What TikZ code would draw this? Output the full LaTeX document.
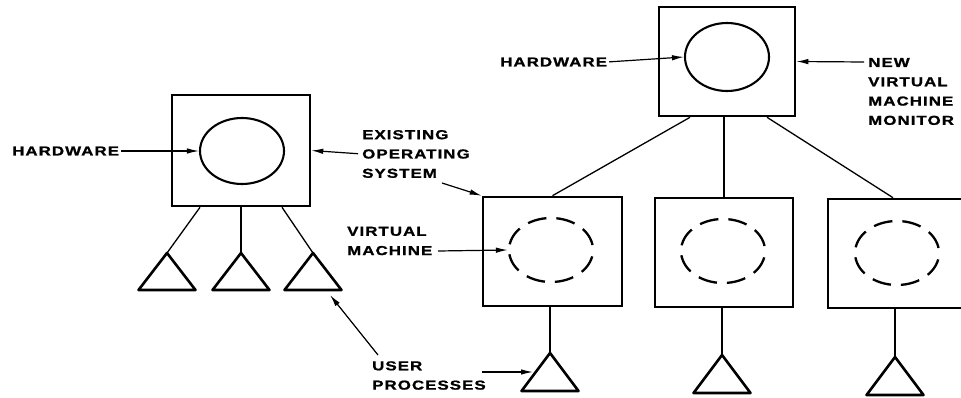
\documentclass[tikz,border=0pt]{standalone}
\usepackage{fontspec}
\newfontfamily\lbl{Liberation Sans}[FakeStretch=1.3,LetterSpace=8,FakeBold=1.2]
\usetikzlibrary{shapes.geometric,arrows.meta}
\tikzset{
  box/.style={draw, line width=2.6pt, rectangle, inner sep=0pt},
  ring/.style={draw, line width=2.1pt, ellipse, inner sep=0pt, minimum width=84pt, minimum height=66pt},
  vring/.style={draw, line width=2.3pt, ellipse, inner sep=0pt, minimum width=84pt, minimum height=64pt,
    dash pattern=on 19pt off 10pt, dash phase=24pt},
  lab/.style={inner sep=0pt, align=left, anchor=west, font=\lbl\bfseries\fontsize{13}{19.3}\selectfont},
  conn/.style={line width=1.3pt},
  ptr/.style={line width=1.2pt, -{Latex[length=12pt,width=5.5pt]}},
  tri/.style={draw, line width=2.6pt, line join=round}
}
\begin{document}
\begin{tikzpicture}[x=1pt,y=-1pt]
\useasboundingbox (0,0) rectangle (961,398);
\clip (0,0) rectangle (961,398);
% left system
\node[box, minimum width=138pt, minimum height=111pt] (lb) at (241,150.5) {};
\node[ring] (lc) at (242,151) {};
\coordinate (lt1) at (167,253);
\coordinate (lt2) at (241,253);
\coordinate (lt3) at (313,253);
\foreach \t in {lt1,lt2,lt3}
  \draw[tri] (\t) -- ++(28.5,37) -- ++(-57,0) -- cycle;
\draw[conn] ([xshift=-41pt]lb.south) -- (lt1);
\draw[conn] (lb.south) -- (lt2);
\draw[conn] ([xshift=41pt]lb.south) -- (lt3);
% top monitor
\node[box, minimum width=136pt, minimum height=109pt] (tb) at (727,61.5) {};
\node[ring, minimum height=68pt] (tc) at (727,57) {};
% virtual machines
\node[box, minimum width=139pt, minimum height=109pt] (v1) at (552.5,251.5) {};
\node[box, minimum width=138pt, minimum height=109pt] (v2) at (724,252.5) {};
\node[box, minimum width=138pt, minimum height=109pt] (v3) at (897,253.5) {};
\node[vring] (c1) at (551,250) {};
\node[vring] (c2) at (723,251) {};
\node[vring] (c3) at (897,253) {};
\draw[conn] ([xshift=-37pt]tb.south) -- (v1.north);
\draw[conn] (v2.north |- tb.south) -- (v2.north);
\draw[conn] ([xshift=40pt]tb.south) -- ([xshift=-4pt]v3.north);
\coordinate (vt1) at (550,353);
\coordinate (vt2) at (722,355);
\coordinate (vt3) at (895,357);
\foreach \t in {vt1,vt2,vt3}
  \draw[tri] (\t) -- ++(28.5,38) -- ++(-57,0) -- cycle;
\draw[conn] (vt1 |- v1.south) -- (vt1);
\draw[conn] (vt2 |- v2.south) -- (vt2);
\draw[conn] (vt3 |- v3.south) -- (vt3);
% labels
\node[lab] (hw1) at (12,151) {HARDWARE};
\node[lab] (eos) at (362,154) {EXISTING\\OPERATING\\SYSTEM};
\node[lab] (vm) at (347,241) {VIRTUAL\\MACHINE};
\node[lab] (up) at (372,375.5) {USER\\PROCESSES};
\node[lab] (hw2) at (500,62) {HARDWARE};
\node[lab] (nv) at (868,91.5) {NEW\\VIRTUAL\\MACHINE\\MONITOR};
% pointers
\draw[ptr, shorten <=2pt] (hw1.east) -- (lc.west);
\draw[ptr, shorten <=4pt] (eos.west) -- (lb.east);
\coordinate (eosfoot) at (442,183);
\draw[ptr] (eosfoot) -- (v1.north west);
\coordinate (vmtail) at (438,251);
\draw[ptr] (vmtail) -- (c1.west);
\coordinate (uptail1) at (378,355);
\coordinate (uptip1) at (330,295);
\draw[ptr] (uptail1) -- (uptip1);
\coordinate (uptail2) at (482,372);
\coordinate (uptip2) at (533,372);
\draw[ptr] (uptail2) -- (uptip2);
\draw[ptr, shorten <=2pt] (hw2.east) -- (tc.west);
\coordinate (nvtail) at (864,62);
\draw[ptr] (nvtail) -- (tb.east);
\end{tikzpicture}
\end{document}
